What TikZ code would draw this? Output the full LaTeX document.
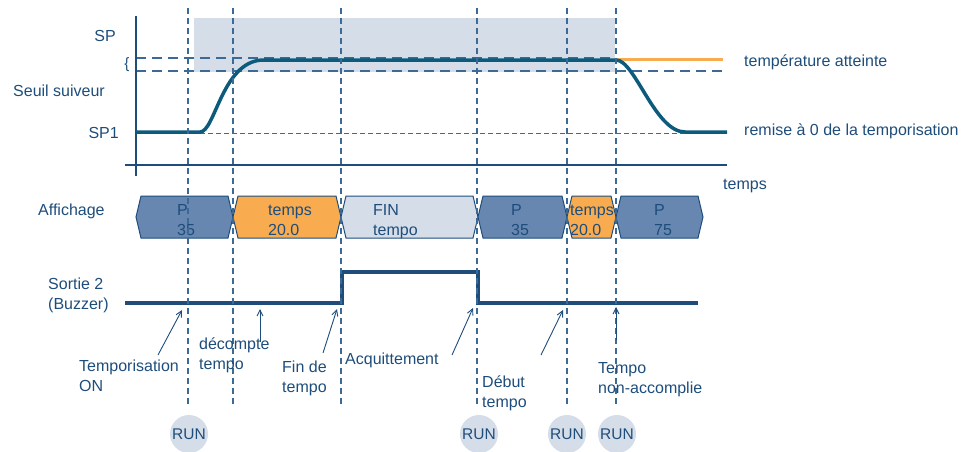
\documentclass[tikz,border=0pt]{standalone}
\usepackage{fontspec}
\setmainfont{Liberation Sans}
\usetikzlibrary{arrows.meta,positioning}

\definecolor{tdark}{HTML}{1E4D7B}
\definecolor{curvec}{HTML}{0C5B7D}
\definecolor{dashc}{HTML}{3C6A96}
\definecolor{pblue}{HTML}{6787B0}
\definecolor{porange}{HTML}{F9AC4F}
\definecolor{plight}{HTML}{D5DDE9}

% hexagonal display box: left point, right point, fill
\newcommand\dispbox[3]{%
  \draw[boxline, fill=#3] (#1,217) -- (#1+5,196) -- (#2-5,196) -- (#2,217) -- (#2-5,238) -- (#1+5,238) -- cycle;}

\begin{document}
\begin{tikzpicture}[x=1pt, y=-1pt,
  lbl/.style={text=tdark, font=\fontsize{16}{20}\selectfont, inner sep=0pt},
  vgrid/.style={dashc, line width=1.4pt, dash pattern=on 6pt off 4pt},
  hgrid/.style={dashc, line width=1.1pt, dash pattern=on 10pt off 6pt},
  sgrid/.style={dashc, line width=0.8pt, dash pattern=on 5pt off 3pt},
  axis/.style={tdark, line width=2pt},
  boxline/.style={tdark, line width=1pt, line join=miter},
  sig/.style={tdark, line width=3.5pt, line join=miter},
  note/.style={tdark, line width=0.9pt, -{Straight Barb[length=6pt, width=6pt]}},
  run/.style={circle, fill=plight, minimum size=38pt, inner sep=0pt, text=tdark, font=\fontsize{15.5}{15.5}\selectfont}]
\useasboundingbox (0,0) rectangle (967,451);

% temperature chart
\fill[plight] (194,18) rectangle (615,72);
\draw[hgrid] (136,58) -- (616,58);
\draw[hgrid] (136,71) -- (723,71);
\draw[sgrid] (136,133) -- (690,133);
\draw[axis] (136,16) -- (136,176);
\draw[axis] (125,165) -- (727,165);
\draw[porange, line width=3pt] (616,59) -- (723,59);
\draw[curvec, line width=3.5pt] (136,132) -- (200,132) .. controls (215,132) and (222,62) .. (262,60)
  -- (616,60) .. controls (635,60) and (655,132) .. (685,132) -- (727,132);

\node[lbl, anchor=base east] (sp) at (116,41) {SP};
\node[lbl, font=\fontsize{15}{15}\selectfont] (seuilbr) at (127,65) {\{};
\node[lbl, anchor=base west] (seuil) at (13,96) {Seuil suiveur};
\node[lbl, anchor=base east] (sp1) at (119,138) {SP1};
\node[lbl, anchor=base west] (atteinte) at (744,66) {température atteinte};
\node[lbl, anchor=base west] (remise) at (744,135) {remise à 0 de la temporisation};
\node[lbl, anchor=base west] (temps) at (723,189) {temps};

% display row
\node[lbl, anchor=base west] (affichage) at (38,215) {Affichage};
\dispbox{136}{233}{pblue}
\dispbox{233}{341}{porange}
\dispbox{341}{478}{plight}
\dispbox{478}{567}{pblue}
\dispbox{567}{616}{porange}
\dispbox{616}{703}{pblue}
\node[lbl, anchor=base west, align=left] (d1) at (177,235) {P\\35};
\node[lbl, anchor=base west, align=left] (d2) at (268,235) {temps\\20.0};
\node[lbl, anchor=base west, align=left] (d3) at (373,235) {FIN\\tempo};
\node[lbl, anchor=base west, align=left] (d4) at (511,235) {P\\35};
\node[lbl, anchor=base west, align=left] (d5) at (570,235) {temps\\20.0};
\node[lbl, anchor=base west, align=left] (d6) at (654,235) {P\\75};

% buzzer output
\node[lbl, anchor=base west, align=left] (sortie) at (48,309) {Sortie 2\\(Buzzer)};
\draw[sig] (125,303) -- (342,303) -- (342,272) -- (478,272) -- (478,303) -- (698,303);

% event lines
\foreach \x in {188,233,341,477,567,616}
  \draw[vgrid] (\x,8) -- (\x,407);

% notes
\node[lbl, anchor=base west, align=left] (tempon) at (79,391) {Temporisation\\ON};
\node[lbl, anchor=base west, align=left] (decompte) at (199,369) {décompte\\tempo};
\node[lbl, anchor=base west, align=left] (fin) at (282,392) {Fin de\\tempo};
\node[lbl, anchor=base west] (acquit) at (345,364) {Acquittement};
\node[lbl, anchor=base west, align=left] (debut) at (482,407) {Début\\tempo};
\node[lbl, anchor=base west, align=left] (nonacc) at (598,393) {Tempo\\non-accomplie};

\coordinate (n1s) at (158,355); \coordinate (n1e) at (182,310);
\coordinate (n2s) at (260,342); \coordinate (n2e) at (260,309);
\coordinate (n3s) at (323,353); \coordinate (n3e) at (337,309);
\coordinate (n4s) at (452,355); \coordinate (n4e) at (473,308);
\coordinate (n5s) at (541,355); \coordinate (n5e) at (563,310);
\coordinate (n6s) at (616,340); \coordinate (n6e) at (616,307);
\draw[note] (n1s) -- (n1e);
\draw[note] (n2s) -- (n2e);
\draw[note] (n3s) -- (n3e);
\draw[note] (n4s) -- (n4e);
\draw[note] (n5s) -- (n5e);
\draw[note] (n6s) -- (n6e);

% run buttons
\node[run] (run1) at (189,434) {RUN};
\node[run] (run2) at (479,434) {RUN};
\node[run] (run3) at (567,434) {RUN};
\node[run] (run4) at (617,434) {RUN};
\end{tikzpicture}
\end{document}
